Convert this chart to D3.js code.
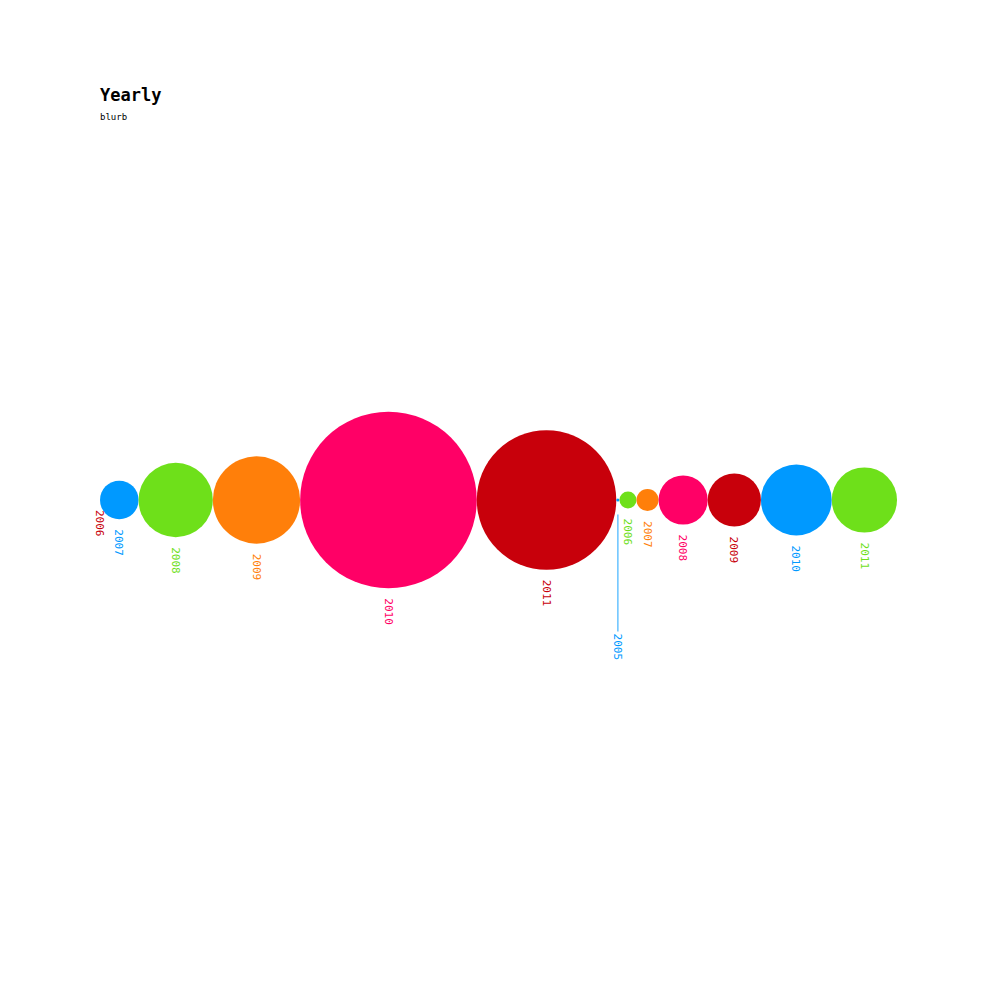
<!DOCTYPE html>
<html><head><meta charset="utf-8">
<script src="https://cdn.jsdelivr.net/npm/d3@7"></script>
<style>body{margin:0;background:#fff}svg{display:block}text{font-family:"DejaVu Sans Mono",monospace}</style>
</head><body>
<script>
// data
const groupA_years = ["2006","2007","2008","2009","2010","2011"];
const groupA_values = [0, 369, 1369, 1892, 7744, 4830];
const groupB_years = ["2005","2006","2007","2008","2009","2010","2011"];
const groupB_values = [2.5, 72, 121, 600, 702, 1246, 1056];
const palette = ["#c8000b","#0099ff","#6ee01a","#ff7f0a","#ff0066"];
const title = "Yearly", subtitle = "blurb";

const W = 1000, H = 1000, left = 100, right = 897, cy = 500;
const svg = d3.select("body").append("svg").attr("width", W).attr("height", H);

svg.append("text").attr("x", 100).attr("y", 101).attr("font-size", 17).attr("font-weight", "bold").text(title);
svg.append("text").attr("x", 100).attr("y", 120).attr("font-size", 9).text(subtitle);

const items = [];
groupA_years.forEach((y, i) => items.push({year: y, value: groupA_values[i]}));
groupB_years.forEach((y, i) => items.push({year: y, value: groupB_values[i]}));
items.forEach((d, i) => d.color = palette[i % palette.length]);

// radius scale so that sum of diameters fills [left,right]
const sumSqrt = d3.sum(items, d => Math.sqrt(d.value));
const maxV = d3.max(items, d => d.value);
const rMax = (right - left) / 2 / sumSqrt * Math.sqrt(maxV);
const r = d3.scaleSqrt().domain([0, maxV]).range([0, rMax]);

let x = left;
items.forEach(d => { d.r = r(d.value); d.cx = x + d.r; x += 2 * d.r; });

const g = svg.append("g");
g.selectAll("circle").data(items).join("circle")
  .attr("cx", d => d.cx).attr("cy", cy).attr("r", d => d.r).attr("fill", d => d.color);

items.forEach(d => {
  d.ly = cy + d.r + 10;
  d.leader = d.r > 0 && d.r < 3;
  if (d.leader) d.ly2 = d.ly + 122;
});

g.selectAll("line.leader").data(items.filter(d => d.leader)).join("line")
  .attr("class", "leader")
  .attr("x1", d => d.cx).attr("x2", d => d.cx)
  .attr("y1", d => d.ly + 3).attr("y2", d => d.ly2 - 2)
  .attr("stroke", d => d.color).attr("stroke-opacity", 0.6).attr("stroke-width", 1.5);

g.selectAll("text.lbl").data(items).join("text")
  .attr("class", "lbl")
  .attr("transform", d => `translate(${d.cx},${d.leader ? d.ly2 : d.ly}) rotate(90)`)
  .attr("dy", "0.35em")
  .attr("font-size", 11)
  .attr("fill", d => d.color)
  .text(d => d.year);
</script>
</body></html>
